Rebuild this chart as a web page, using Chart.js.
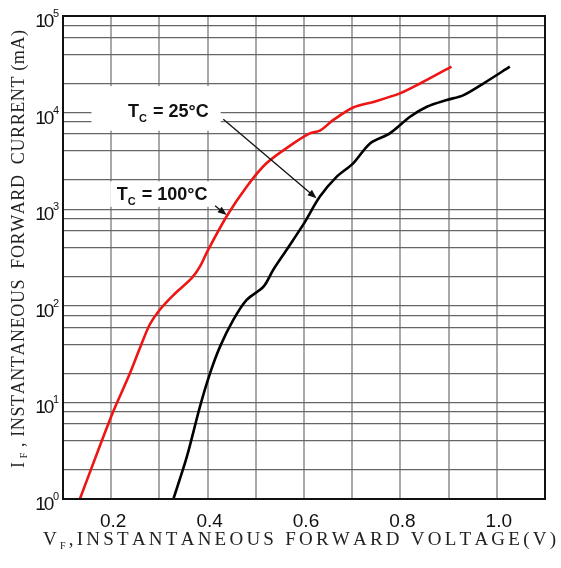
<!DOCTYPE html>
<html>
<head>
<meta charset="utf-8">
<script src="https://cdn.jsdelivr.net/npm/chart.js@4"></script>
<style>
html, body { margin: 0; padding: 0; background: #fff; }
#wrap { width: 561px; height: 568px; }
</style>
</head>
<body>
<div id="wrap"><canvas id="ivChart" width="561" height="568"></canvas></div>
<script>
// forward voltage (V) / forward current (mA)
const vHot = [0.135, 0.177, 0.204, 0.236, 0.26, 0.28, 0.30, 0.329, 0.367, 0.384, 0.40, 0.439, 0.481, 0.522, 0.578, 0.612, 0.633, 0.661, 0.702, 0.744, 0.799, 0.841, 0.906];
const iHot = [1, 3.6, 8, 18.5, 37, 64, 90, 129, 193, 254, 370, 836, 1710, 2985, 4800, 6100, 6500, 8400, 11300, 12900, 15800, 20000, 29900];
const vCold = [0.329, 0.357, 0.384, 0.405, 0.426, 0.453, 0.481, 0.516, 0.536, 0.564, 0.599, 0.633, 0.668, 0.702, 0.737, 0.778, 0.82, 0.855, 0.896, 0.93, 0.972, 1.027];
const iCold = [1, 2.74, 9, 20, 38, 71, 115, 158, 235, 380, 700, 1350, 2170, 2985, 4800, 6100, 9070, 11500, 13500, 15100, 20000, 29900];

const xTickLabels = ['0.2', '0.4', '0.6', '0.8', '1.0'];
const yDecades = [0, 1, 2, 3, 4, 5];
const yMinorSteps = [1, 2, 4, 6, 8];   // the sheet only rules these per decade

// grid positions
const xGrid = [];
for (let k = 1; k <= 11; k++) xGrid.push(k / 10);
const yGrid = [];
yDecades.forEach(e => {
    if (e === 5) { yGrid.push(1e5); return; }
    yMinorSteps.forEach(m => yGrid.push(m * Math.pow(10, e)));
});

// callout labels, anchored in data units
const callouts = [
    { name: '25', at: [0.235, 9000], box: [0.159, 0.427, 18800, 6500], from: [0.4326, 8520], to: [0.626, 1297] },
    { name: '100', at: [0.2114, 1245], box: [0.198, 0.414, 1940, 1060], from: [0.4154, 1083], to: [0.4396, 871] }
];

function spacedText(ctx, parts, x, y, width) {
    const chars = [];
    parts.forEach(p => { for (const c of p.text) chars.push({ c: c, font: p.font, dy: p.dy || 0 }); });
    let natural = 0;
    chars.forEach(o => { ctx.font = o.font; o.w = ctx.measureText(o.c).width; natural += o.w; });
    const gap = (width - natural) / (chars.length - 1);
    let cx = x;
    chars.forEach(o => { ctx.font = o.font; ctx.fillText(o.c, cx, y + o.dy); cx += o.w + gap; });
}

function arrow(ctx, x1, y1, x2, y2) {
    const a = Math.atan2(y2 - y1, x2 - x1);
    ctx.strokeStyle = '#111';
    ctx.fillStyle = '#111';
    ctx.lineWidth = 1.3;
    ctx.beginPath();
    ctx.moveTo(x1, y1);
    ctx.lineTo(x2 - 6 * Math.cos(a), y2 - 6 * Math.sin(a));
    ctx.stroke();
    ctx.beginPath();
    ctx.moveTo(x2, y2);
    ctx.lineTo(x2 - 9 * Math.cos(a) + 3.5 * Math.sin(a), y2 - 9 * Math.sin(a) - 3.5 * Math.cos(a));
    ctx.lineTo(x2 - 9 * Math.cos(a) - 3.5 * Math.sin(a), y2 - 9 * Math.sin(a) + 3.5 * Math.cos(a));
    ctx.closePath();
    ctx.fill();
}

const sheetPlugin = {
    id: 'sheet',
    beforeDatasetsDraw(chart) {
        const ctx = chart.ctx, x = chart.scales.x, y = chart.scales.y;
        ctx.save();
        ctx.fillStyle = '#fff';
        callouts.forEach(c => {
            const l = x.getPixelForValue(c.box[0]), r = x.getPixelForValue(c.box[1]);
            const t = y.getPixelForValue(c.box[2]), b = y.getPixelForValue(c.box[3]);
            ctx.fillRect(l, t, r - l, b - t);
        });
        ctx.restore();
    },
    afterDatasetsDraw(chart) {
        const ctx = chart.ctx, x = chart.scales.x, y = chart.scales.y;
        ctx.save();
        callouts.forEach(c => {
            const px = x.getPixelForValue(c.at[0]), py = y.getPixelForValue(c.at[1]);
            ctx.fillStyle = '#111';
            ctx.textAlign = 'left';
            ctx.textBaseline = 'alphabetic';
            ctx.font = 'bold 18px "Liberation Sans"';
            ctx.fillText('T', px, py);
            let cx = px + ctx.measureText('T').width;
            ctx.font = 'bold 11px "Liberation Sans"';
            ctx.fillText('C', cx, py + 5);
            cx += ctx.measureText('C').width + 1;
            ctx.font = 'bold 18px "Liberation Sans"';
            ctx.fillText(' = ' + c.name + '\u00B0C', cx, py);
            arrow(ctx, x.getPixelForValue(c.from[0]), y.getPixelForValue(c.from[1]),
                x.getPixelForValue(c.to[0]), y.getPixelForValue(c.to[1]));
        });
        ctx.restore();
    },
    afterDraw(chart) {
        const ctx = chart.ctx, x = chart.scales.x, y = chart.scales.y, a = chart.chartArea;
        ctx.save();
        // frame
        ctx.strokeStyle = '#111';
        ctx.lineWidth = 2;
        ctx.strokeRect(a.left, a.top, a.right - a.left, a.bottom - a.top);

        // x tick labels
        ctx.fillStyle = '#111';
        ctx.font = '19px "Liberation Sans"';
        ctx.textAlign = 'center';
        ctx.textBaseline = 'alphabetic';
        xTickLabels.forEach(t => {
            ctx.fillText(t, x.getPixelForValue(parseFloat(t)) + 2, a.bottom + 28);
        });

        // y tick labels, 10 with a raised exponent
        ctx.textAlign = 'left';
        yDecades.forEach(e => {
            const py = y.getPixelForValue(Math.pow(10, e));
            ctx.font = '11px "Liberation Sans"';
            const ew = ctx.measureText(String(e)).width;
            const ex = a.left - 4 - ew;
            ctx.fillText(String(e), ex, py + 1);
            ctx.font = '19px "Liberation Sans"';
            const w0 = ctx.measureText('0').width, w1 = ctx.measureText('1').width;
            ctx.fillText('0', ex - w0 + 1.5, py + 11);
            ctx.fillText('1', ex - w0 - w1 + 3.5, py + 11);
        });

        // axis titles
        ctx.fillStyle = '#222';
        spacedText(ctx, [
            { text: 'V', font: '19px "Liberation Serif"' },
            { text: 'F', font: '10px "Liberation Serif"', dy: 4 },
            { text: ',INSTANTANEOUS FORWARD VOLTAGE(V)', font: '19px "Liberation Serif"' }
        ], 43, 545, 513);

        ctx.translate(24, 468);
        ctx.rotate(-Math.PI / 2);
        spacedText(ctx, [
            { text: 'I', font: '18px "Liberation Serif"' },
            { text: ' F', font: '10px "Liberation Serif"', dy: 3 },
            { text: ' , INSTANTANEOUS  FORWARD  CURRENT (mA)', font: '18px "Liberation Serif"' }
        ], 0, 0, 438);
        ctx.restore();
    }
};

const ctx = document.getElementById('ivChart').getContext('2d');
const ivChart = new Chart(ctx, {
    type: 'line',
    data: {
        datasets: [{
            label: 'TC = 100°C',
            data: vHot.map((v, i) => ({ x: v, y: iHot[i] })),
            borderColor: '#ee1515',
            borderWidth: 2.6,
            pointRadius: 0,
            tension: 0.3,
            fill: false
        }, {
            label: 'TC = 25°C',
            data: vCold.map((v, i) => ({ x: v, y: iCold[i] })),
            borderColor: '#000',
            borderWidth: 2.6,
            pointRadius: 0,
            tension: 0.3,
            fill: false
        }]
    },
    options: {
        responsive: false,
        animation: false,
        devicePixelRatio: 1,
        layout: { padding: { left: 63, top: 16, right: 16, bottom: 0 } },
        plugins: { legend: { display: false }, tooltip: { enabled: false } },
        scales: {
            x: {
                type: 'linear',
                min: 0.1,
                max: 1.1,
                afterBuildTicks: s => { s.ticks = xGrid.map(v => ({ value: v })); },
                afterFit: s => { s.height = 69; },
                ticks: { display: false },
                grid: { color: '#a8a8a8', lineWidth: 2, drawTicks: false },
                border: { display: false }
            },
            y: {
                type: 'logarithmic',
                min: 1,
                max: 1e5,
                afterBuildTicks: s => { s.ticks = yGrid.map(v => ({ value: v })); },
                afterFit: s => { s.width = 0; },
                ticks: { display: false },
                grid: { color: '#666', lineWidth: 1.3, drawTicks: false },
                border: { display: false }
            }
        }
    },
    plugins: [sheetPlugin]
});
</script>
</body>
</html>
